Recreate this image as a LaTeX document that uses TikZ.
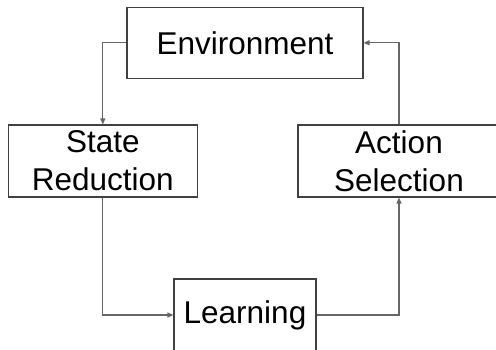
\documentclass[tikz,border=0pt]{standalone}
\usepackage{fontspec}
\setmainfont{Liberation Sans}
\usepackage{tikz}
\usetikzlibrary{arrows.meta,positioning}
\tikzset{
  box/.style = {rectangle, draw=black!75, line width=1.1pt, fill=white,
                align=center, inner sep=0pt,
                font=\fontsize{31.5}{38}\selectfont},
  fl/.style  = {-{Triangle[length=6pt,width=5pt]}, line width=1.2pt, black!60},
}
\begin{document}
\begin{tikzpicture}[x=1pt, y=-1pt]
  \useasboundingbox (0,0) rectangle (496,349);
  \clip (0,0) rectangle (496,349);

  \node[box, minimum width=236pt, minimum height=71pt] (env) at (245,42.8) {Environment};
  \node[box, minimum width=189pt, minimum height=72pt] (sred) at (102.8,161) {State\\ Reduction};
  \node[box, minimum width=202pt, minimum height=72pt] (asel) at (399,161) {Action\\ Selection};
  \node[box, minimum width=142pt, minimum height=72pt] (learn) at (245,315) {Learning};

  \draw[fl] (env.west) -| (sred.north);
  \draw[fl] (sred.south) |- (learn.west);
  \draw[fl] (learn.east) -| (asel.south);
  \draw[fl] (asel.north) |- (env.east);

\end{tikzpicture}
\end{document}
